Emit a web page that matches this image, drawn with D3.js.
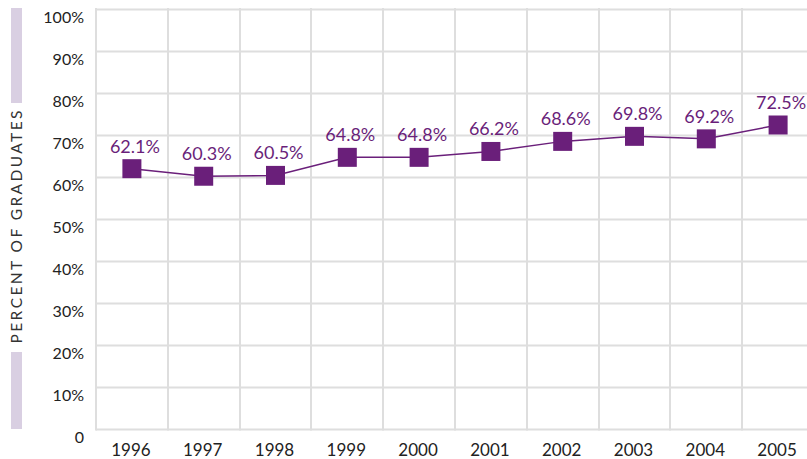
<!DOCTYPE html>
<html>
<head>
<meta charset="utf-8">
<script src="https://cdn.jsdelivr.net/npm/d3@7"></script>
<style>
  body { margin: 0; background: #fff; }
  svg { display: block; }
</style>
</head>
<body>
<div id="chart"></div>
<script>
// Data
var years = ["1996", "1997", "1998", "1999", "2000", "2001", "2002", "2003", "2004", "2005"];
var rates = [62.1, 60.3, 60.5, 64.8, 64.8, 66.2, 68.6, 69.8, 69.2, 72.5];
var yTicks = [0, 10, 20, 30, 40, 50, 60, 70, 80, 90, 100];

var width = 807, height = 459;
var purple = "#6a1f7a", grid = "#dedede", ink = "#222";
var font = "Lato, 'Open Sans', sans-serif";

var data = years.map(function(y, i) { return { year: y, value: rates[i] }; });

var svg = d3.select("#chart").append("svg")
  .attr("width", width)
  .attr("height", height);

var x = d3.scaleBand()
  .domain(years)
  .range([96, 814]);

var y = d3.scaleLinear()
  .domain([0, 100])
  .range([429.5, 9.5]);

// horizontal gridlines
svg.append("g").selectAll("line")
  .data(yTicks)
  .enter().append("line")
  .attr("x1", 96)
  .attr("x2", 814)
  .attr("y1", function(d) { return y(d); })
  .attr("y2", function(d) { return y(d); })
  .style("stroke", grid)
  .style("stroke-width", 2);

// vertical gridlines (band edges)
svg.append("g").selectAll("line")
  .data(years)
  .enter().append("line")
  .attr("x1", function(d) { return Math.round(x(d)); })
  .attr("x2", function(d) { return Math.round(x(d)); })
  .attr("y1", 8)
  .attr("y2", y(0) + 1)
  .style("stroke", grid)
  .style("stroke-width", 2);

// y tick labels
svg.append("g").selectAll("text")
  .data(yTicks)
  .enter().append("text")
  .attr("x", 84)
  .attr("y", function(d) { return y(d) + 8; })
  .attr("dy", "0.35em")
  .style("text-anchor", "end")
  .style("font-family", font)
  .style("font-size", "16px")
  .style("fill", ink)
  .text(function(d) { return d === 0 ? "0" : d + "%"; });

// x tick labels
svg.append("g").selectAll("text")
  .data(years)
  .enter().append("text")
  .attr("x", function(d) { return x(d) + x.bandwidth() / 2 - 1; })
  .attr("y", 456)
  .style("text-anchor", "middle")
  .style("font-family", font)
  .style("font-size", "17px")
  .style("fill", ink)
  .text(function(d) { return d; });

// axis title with bars
svg.append("rect")
  .attr("x", 11).attr("y", 8)
  .attr("width", 11).attr("height", 95)
  .style("fill", "#d9cfe2");
svg.append("rect")
  .attr("x", 11).attr("y", 352)
  .attr("width", 11).attr("height", 77)
  .style("fill", "#d9cfe2");
svg.append("text")
  .attr("transform", "translate(22,227) rotate(-90)")
  .attr("textLength", 233)
  .attr("lengthAdjust", "spacing")
  .style("text-anchor", "middle")
  .style("font-family", font)
  .style("font-size", "15.5px")
  .style("fill", "#333")
  .text("PERCENT OF GRADUATES");

// line
var line = d3.line()
  .x(function(d) { return x(d.year) + x.bandwidth() / 2; })
  .y(function(d) { return y(d.value); });

svg.append("path")
  .datum(data)
  .attr("d", line)
  .style("fill", "none")
  .style("stroke", purple)
  .style("stroke-width", 1.5);

// markers
var s = 19;
svg.append("g").selectAll("rect")
  .data(data)
  .enter().append("rect")
  .attr("x", function(d) { return x(d.year) + x.bandwidth() / 2 - s / 2; })
  .attr("y", function(d) { return y(d.value) - s / 2; })
  .attr("width", s)
  .attr("height", s)
  .style("fill", purple);

// value labels
svg.append("g").selectAll("text")
  .data(data)
  .enter().append("text")
  .attr("x", function(d) { return x(d.year) + x.bandwidth() / 2 + 3; })
  .attr("y", function(d) { return y(d.value) - 16; })
  .style("text-anchor", "middle")
  .style("font-family", font)
  .style("font-size", "18px")
  .style("fill", purple)
  .text(function(d) { return d.value.toFixed(1) + "%"; });
</script>
</body>
</html>
